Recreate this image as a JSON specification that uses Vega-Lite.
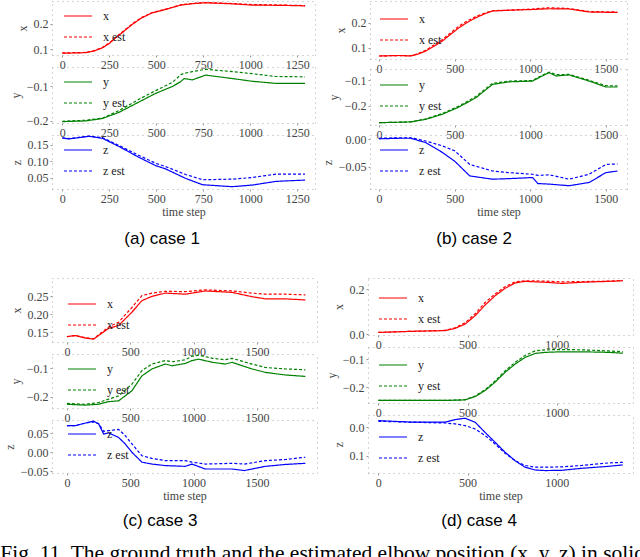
{
  "$schema": "https://vega.github.io/schema/vega-lite/v6.json",
  "padding": {"left": 0, "top": 0, "right": 0, "bottom": 0},
  "background": "white",
  "datasets": {
    "a_x": [
      {"t": 0, "x": 0.085, "x est": 0.086}, {"t": 60, "x": 0.086, "x est": 0.087}, {"t": 124, "x": 0.087, "x est": 0.088},
      {"t": 170, "x": 0.094, "x est": 0.095}, {"t": 213, "x": 0.106, "x est": 0.107}, {"t": 250, "x": 0.123, "x est": 0.125},
      {"t": 284, "x": 0.145, "x est": 0.147}, {"t": 330, "x": 0.172, "x est": 0.175}, {"t": 373, "x": 0.198, "x est": 0.2},
      {"t": 420, "x": 0.222, "x est": 0.224}, {"t": 479, "x": 0.243, "x est": 0.244}, {"t": 550, "x": 0.256, "x est": 0.257},
      {"t": 630, "x": 0.273, "x est": 0.274}, {"t": 700, "x": 0.279, "x est": 0.28}, {"t": 763, "x": 0.282, "x est": 0.283},
      {"t": 905, "x": 0.278, "x est": 0.279}, {"t": 1012, "x": 0.273, "x est": 0.275}, {"t": 1171, "x": 0.272, "x est": 0.273},
      {"t": 1292, "x": 0.27, "x est": 0.271}
    ],
    "a_y": [
      {"t": 0, "y": -0.202, "y est": -0.201}, {"t": 124, "y": -0.2, "y est": -0.198}, {"t": 213, "y": -0.193, "y est": -0.192},
      {"t": 302, "y": -0.175, "y est": -0.17}, {"t": 408, "y": -0.145, "y est": -0.137}, {"t": 497, "y": -0.12, "y est": -0.112},
      {"t": 586, "y": -0.1, "y est": -0.088}, {"t": 630, "y": -0.086, "y est": -0.066}, {"t": 648, "y": -0.077, "y est": -0.062},
      {"t": 692, "y": -0.081, "y est": -0.057}, {"t": 763, "y": -0.067, "y est": -0.05}, {"t": 905, "y": -0.077, "y est": -0.057},
      {"t": 1012, "y": -0.085, "y est": -0.063}, {"t": 1136, "y": -0.091, "y est": -0.071}, {"t": 1292, "y": -0.091, "y est": -0.072}
    ],
    "a_z": [
      {"t": 0, "z": 0.171, "z est": 0.171}, {"t": 35, "z": 0.168, "z est": 0.169}, {"t": 142, "z": 0.176, "z est": 0.177},
      {"t": 213, "z": 0.17, "z est": 0.172}, {"t": 302, "z": 0.145, "z est": 0.148}, {"t": 408, "z": 0.112, "z est": 0.118},
      {"t": 497, "z": 0.087, "z est": 0.094}, {"t": 550, "z": 0.077, "z est": 0.084}, {"t": 657, "z": 0.048, "z est": 0.06},
      {"t": 746, "z": 0.029, "z est": 0.044}, {"t": 905, "z": 0.023, "z est": 0.046}, {"t": 1012, "z": 0.028, "z est": 0.051},
      {"t": 1136, "z": 0.039, "z est": 0.061}, {"t": 1207, "z": 0.041, "z est": 0.061}, {"t": 1292, "z": 0.043, "z est": 0.061}
    ],
    "b_x": [
      {"t": 0, "x": 0.067, "x est": 0.067}, {"t": 132, "x": 0.069, "x est": 0.069}, {"t": 210, "x": 0.067, "x est": 0.068},
      {"t": 260, "x": 0.075, "x est": 0.077}, {"t": 309, "x": 0.087, "x est": 0.09}, {"t": 360, "x": 0.105, "x est": 0.11},
      {"t": 419, "x": 0.127, "x est": 0.133}, {"t": 470, "x": 0.152, "x est": 0.158}, {"t": 529, "x": 0.18, "x est": 0.187},
      {"t": 580, "x": 0.2, "x est": 0.206}, {"t": 640, "x": 0.22, "x est": 0.225}, {"t": 700, "x": 0.236, "x est": 0.239},
      {"t": 750, "x": 0.247, "x est": 0.248}, {"t": 904, "x": 0.251, "x est": 0.252}, {"t": 1015, "x": 0.253, "x est": 0.255},
      {"t": 1125, "x": 0.256, "x est": 0.26}, {"t": 1257, "x": 0.255, "x est": 0.257}, {"t": 1390, "x": 0.243, "x est": 0.245},
      {"t": 1577, "x": 0.241, "x est": 0.243}
    ],
    "b_y": [
      {"t": 0, "y": -0.265, "y est": -0.265}, {"t": 210, "y": -0.262, "y est": -0.262}, {"t": 309, "y": -0.252, "y est": -0.25},
      {"t": 419, "y": -0.232, "y est": -0.229}, {"t": 529, "y": -0.204, "y est": -0.2}, {"t": 640, "y": -0.168, "y est": -0.163},
      {"t": 750, "y": -0.116, "y est": -0.112}, {"t": 860, "y": -0.106, "y est": -0.103}, {"t": 1015, "y": -0.103, "y est": -0.101},
      {"t": 1080, "y": -0.083, "y est": -0.08}, {"t": 1125, "y": -0.07, "y est": -0.068}, {"t": 1170, "y": -0.083, "y est": -0.078},
      {"t": 1257, "y": -0.079, "y est": -0.077}, {"t": 1390, "y": -0.103, "y est": -0.1}, {"t": 1500, "y": -0.126, "y est": -0.121},
      {"t": 1577, "y": -0.126, "y est": -0.122}
    ],
    "b_z": [
      {"t": 0, "z": 0.001, "z est": 0.002}, {"t": 132, "z": 0.002, "z est": 0.003}, {"t": 210, "z": 0.002, "z est": 0.003},
      {"t": 309, "z": -0.006, "z est": -0.003}, {"t": 419, "z": -0.024, "z est": -0.012}, {"t": 500, "z": -0.04, "z est": -0.021},
      {"t": 600, "z": -0.067, "z est": -0.046}, {"t": 750, "z": -0.073, "z est": -0.058}, {"t": 860, "z": -0.072, "z est": -0.061},
      {"t": 1015, "z": -0.07, "z est": -0.064}, {"t": 1050, "z": -0.081, "z est": -0.066}, {"t": 1125, "z": -0.082, "z est": -0.065},
      {"t": 1257, "z": -0.085, "z est": -0.073}, {"t": 1390, "z": -0.079, "z est": -0.064}, {"t": 1500, "z": -0.061, "z est": -0.046},
      {"t": 1577, "z": -0.058, "z est": -0.045}
    ],
    "c_x": [
      {"t": 0, "x": 0.138, "x est": 0.138}, {"t": 66, "x": 0.141, "x est": 0.141}, {"t": 145, "x": 0.134, "x est": 0.135},
      {"t": 210, "x": 0.131, "x est": 0.132}, {"t": 250, "x": 0.141, "x est": 0.143}, {"t": 329, "x": 0.161, "x est": 0.165},
      {"t": 408, "x": 0.169, "x est": 0.178}, {"t": 513, "x": 0.206, "x est": 0.219}, {"t": 592, "x": 0.238, "x est": 0.252},
      {"t": 671, "x": 0.25, "x est": 0.259}, {"t": 776, "x": 0.259, "x est": 0.264}, {"t": 934, "x": 0.256, "x est": 0.263},
      {"t": 1092, "x": 0.265, "x est": 0.268}, {"t": 1303, "x": 0.261, "x est": 0.265}, {"t": 1461, "x": 0.249, "x est": 0.259},
      {"t": 1566, "x": 0.243, "x est": 0.256}, {"t": 1724, "x": 0.243, "x est": 0.256}, {"t": 1882, "x": 0.24, "x est": 0.254}
    ],
    "c_y": [
      {"t": 0, "y": -0.226, "y est": -0.223}, {"t": 145, "y": -0.229, "y est": -0.226}, {"t": 250, "y": -0.226, "y est": -0.22},
      {"t": 329, "y": -0.217, "y est": -0.208}, {"t": 408, "y": -0.214, "y est": -0.197}, {"t": 513, "y": -0.179, "y est": -0.156},
      {"t": 592, "y": -0.127, "y est": -0.109}, {"t": 671, "y": -0.103, "y est": -0.086}, {"t": 776, "y": -0.086, "y est": -0.074},
      {"t": 830, "y": -0.092, "y est": -0.078}, {"t": 934, "y": -0.084, "y est": -0.071}, {"t": 987, "y": -0.074, "y est": -0.059},
      {"t": 1040, "y": -0.069, "y est": -0.055}, {"t": 1150, "y": -0.08, "y est": -0.066}, {"t": 1250, "y": -0.086, "y est": -0.071},
      {"t": 1303, "y": -0.08, "y est": -0.066}, {"t": 1461, "y": -0.103, "y est": -0.086}, {"t": 1566, "y": -0.115, "y est": -0.098},
      {"t": 1724, "y": -0.124, "y est": -0.103}, {"t": 1882, "y": -0.129, "y est": -0.106}
    ],
    "c_z": [
      {"t": 0, "z": 0.07, "z est": 0.07}, {"t": 66, "z": 0.07, "z est": 0.07}, {"t": 145, "z": 0.077, "z est": 0.077},
      {"t": 210, "z": 0.082, "z est": 0.08}, {"t": 250, "z": 0.075, "z est": 0.075}, {"t": 290, "z": 0.048, "z est": 0.055},
      {"t": 329, "z": 0.051, "z est": 0.057}, {"t": 408, "z": 0.039, "z est": 0.06}, {"t": 460, "z": 0.022, "z est": 0.044},
      {"t": 513, "z": 0.0, "z est": 0.022}, {"t": 592, "z": -0.026, "z est": -0.009}, {"t": 671, "z": -0.031, "z est": -0.016},
      {"t": 776, "z": -0.035, "z est": -0.022}, {"t": 934, "z": -0.037, "z est": -0.022}, {"t": 987, "z": -0.031, "z est": -0.026},
      {"t": 1092, "z": -0.044, "z est": -0.031}, {"t": 1303, "z": -0.044, "z est": -0.029}, {"t": 1400, "z": -0.048, "z est": -0.031},
      {"t": 1566, "z": -0.037, "z est": -0.022}, {"t": 1724, "z": -0.032, "z est": -0.019}, {"t": 1882, "z": -0.029, "z est": -0.013}
    ],
    "d_x": [
      {"t": 0, "x": 0.007, "x est": 0.007}, {"t": 187, "x": 0.012, "x est": 0.012}, {"t": 374, "x": 0.015, "x est": 0.016},
      {"t": 430, "x": 0.025, "x est": 0.028}, {"t": 486, "x": 0.044, "x est": 0.05}, {"t": 542, "x": 0.081, "x est": 0.09},
      {"t": 598, "x": 0.129, "x est": 0.14}, {"t": 654, "x": 0.17, "x est": 0.178}, {"t": 710, "x": 0.203, "x est": 0.21},
      {"t": 766, "x": 0.227, "x est": 0.232}, {"t": 822, "x": 0.234, "x est": 0.237}, {"t": 935, "x": 0.23, "x est": 0.235},
      {"t": 1028, "x": 0.225, "x est": 0.232}, {"t": 1140, "x": 0.23, "x est": 0.233}, {"t": 1290, "x": 0.234, "x est": 0.235},
      {"t": 1370, "x": 0.237, "x est": 0.238}
    ],
    "d_y": [
      {"t": 0, "y": -0.247, "y est": -0.247}, {"t": 374, "y": -0.247, "y est": -0.247}, {"t": 486, "y": -0.245, "y est": -0.244},
      {"t": 542, "y": -0.233, "y est": -0.231}, {"t": 598, "y": -0.212, "y est": -0.209}, {"t": 654, "y": -0.182, "y est": -0.178},
      {"t": 710, "y": -0.147, "y est": -0.142}, {"t": 766, "y": -0.118, "y est": -0.112}, {"t": 822, "y": -0.094, "y est": -0.087},
      {"t": 878, "y": -0.08, "y est": -0.071}, {"t": 935, "y": -0.076, "y est": -0.067}, {"t": 1028, "y": -0.074, "y est": -0.066},
      {"t": 1140, "y": -0.074, "y est": -0.067}, {"t": 1290, "y": -0.076, "y est": -0.071}, {"t": 1370, "y": -0.079, "y est": -0.074}
    ],
    "d_z": [
      {"t": 0, "z": 0.0235, "z est": 0.021}, {"t": 187, "z": 0.018, "z est": 0.018}, {"t": 374, "z": 0.018, "z est": 0.015},
      {"t": 430, "z": 0.027, "z est": 0.012}, {"t": 486, "z": 0.032, "z est": 0.006}, {"t": 542, "z": 0.018, "z est": -0.006},
      {"t": 598, "z": -0.018, "z est": -0.029}, {"t": 654, "z": -0.053, "z est": -0.059}, {"t": 710, "z": -0.088, "z est": -0.092},
      {"t": 766, "z": -0.118, "z est": -0.118}, {"t": 822, "z": -0.141, "z est": -0.135}, {"t": 878, "z": -0.151, "z est": -0.141},
      {"t": 935, "z": -0.153, "z est": -0.141}, {"t": 1028, "z": -0.152, "z est": -0.14}, {"t": 1140, "z": -0.145, "z est": -0.135},
      {"t": 1290, "z": -0.138, "z est": -0.126}, {"t": 1370, "z": -0.133, "z est": -0.124}
    ]
  },
  "title": {
    "text": "Fig. 11.  The ground truth and the estimated elbow position (x, y, z) in solid",
    "orient": "bottom", "anchor": "start", "font": "Liberation Serif", "fontSize": 21.5,
    "fontWeight": "normal", "color": "#000", "offset": 14, "dx": -3
  },
  "spacing": 31,
  "resolve": {"scale": {"strokeDash": "independent"}, "legend": {"strokeDash": "independent"}},
  "vconcat": [
    {
      "spacing": 6,
      "resolve": {"scale": {"strokeDash": "independent"}, "legend": {"strokeDash": "independent"}},
      "hconcat": [
        {
          "title": {"text": "(a) case 1", "orient": "bottom", "anchor": "middle", "font": "Liberation Sans", "fontSize": 17, "fontWeight": "normal", "color": "#000", "offset": 14},
          "spacing": 12,
          "bounds": "flush",
          "resolve": {"scale": {"strokeDash": "independent"}, "legend": {"strokeDash": "independent"}},
          "vconcat": [
            {
              "width": 263, "height": 54,
              "data": {"name": "a_x"},
              "transform": [{"fold": ["x", "x est"], "as": ["series", "value"]}],
              "layer": [
                {
                  "mark": {"type": "line", "color": "#ff0000"},
                  "encoding": {
                    "x": {"field": "t", "type": "quantitative", "scale": {"domain": [-55, 1345], "nice": false, "zero": false}, "axis": {"values": [0, 250, 500, 750, 1000, 1250], "format": "d", "title": null}},
                    "y": {"field": "value", "type": "quantitative", "scale": {"domain": [0.078, 0.289], "nice": false, "zero": false}, "axis": {"values": [0.1, 0.2], "format": ".1f", "title": "x"}},
                    "strokeDash": {"field": "series", "type": "nominal", "scale": {"domain": ["x", "x est"], "range": [[1, 0], [3, 2]]}, "legend": {"title": null, "orient": "none", "legendX": 11, "legendY": 0, "symbolStrokeColor": "#ff0000"}}
                  }
                },
                {
                  "mark": {"type": "line", "opacity": 0},
                  "encoding": {
                    "x": {"field": "t", "type": "quantitative", "axis": {"orient": "top", "labels": false, "ticks": false, "title": null}},
                    "y": {"field": "value", "type": "quantitative", "axis": {"orient": "right", "labels": false, "ticks": false, "title": null}}
                  }
                }
              ],
              "resolve": {"axis": {"x": "independent", "y": "independent"}}
            },
            {
              "width": 263, "height": 56,
              "data": {"name": "a_y"},
              "transform": [{"fold": ["y", "y est"], "as": ["series", "value"]}],
              "layer": [
                {
                  "mark": {"type": "line", "color": "#008000"},
                  "encoding": {
                    "x": {"field": "t", "type": "quantitative", "scale": {"domain": [-55, 1345], "nice": false, "zero": false}, "axis": {"values": [0, 250, 500, 750, 1000, 1250], "format": "d", "title": null}},
                    "y": {"field": "value", "type": "quantitative", "scale": {"domain": [-0.206, -0.0435], "nice": false, "zero": false}, "axis": {"values": [-0.2, -0.1], "format": ".1f", "title": "y"}},
                    "strokeDash": {"field": "series", "type": "nominal", "scale": {"domain": ["y", "y est"], "range": [[1, 0], [3, 2]]}, "legend": {"title": null, "orient": "none", "legendX": 11, "legendY": 0, "symbolStrokeColor": "#008000"}}
                  }
                },
                {
                  "mark": {"type": "line", "opacity": 0},
                  "encoding": {
                    "x": {"field": "t", "type": "quantitative", "axis": {"orient": "top", "labels": false, "ticks": false, "title": null}},
                    "y": {"field": "value", "type": "quantitative", "axis": {"orient": "right", "labels": false, "ticks": false, "title": null}}
                  }
                }
              ],
              "resolve": {"axis": {"x": "independent", "y": "independent"}}
            },
            {
              "width": 263, "height": 54,
              "data": {"name": "a_z"},
              "transform": [{"fold": ["z", "z est"], "as": ["series", "value"]}],
              "layer": [
                {
                  "mark": {"type": "line", "color": "#0000ff"},
                  "encoding": {
                    "x": {"field": "t", "type": "quantitative", "scale": {"domain": [-55, 1345], "nice": false, "zero": false}, "axis": {"values": [0, 250, 500, 750, 1000, 1250], "format": "d", "title": "time step"}},
                    "y": {"field": "value", "type": "quantitative", "scale": {"domain": [0.016, 0.18], "nice": false, "zero": false}, "axis": {"values": [0.05, 0.1, 0.15], "format": ".2f", "title": "z"}},
                    "strokeDash": {"field": "series", "type": "nominal", "scale": {"domain": ["z", "z est"], "range": [[1, 0], [3, 2]]}, "legend": {"title": null, "orient": "none", "legendX": 11, "legendY": 0, "symbolStrokeColor": "#0000ff"}}
                  }
                },
                {
                  "mark": {"type": "line", "opacity": 0},
                  "encoding": {
                    "x": {"field": "t", "type": "quantitative", "axis": {"orient": "top", "labels": false, "ticks": false, "title": null}},
                    "y": {"field": "value", "type": "quantitative", "axis": {"orient": "right", "labels": false, "ticks": false, "title": null}}
                  }
                }
              ],
              "resolve": {"axis": {"x": "independent", "y": "independent"}}
            }
          ]
        },
        {
          "title": {"text": "(b) case 2", "orient": "bottom", "anchor": "middle", "font": "Liberation Sans", "fontSize": 17, "fontWeight": "normal", "color": "#000", "offset": 14},
          "spacing": 10,
          "bounds": "flush",
          "resolve": {"scale": {"strokeDash": "independent"}, "legend": {"strokeDash": "independent"}},
          "vconcat": [
            {
              "width": 257, "height": 58,
              "data": {"name": "b_x"},
              "transform": [{"fold": ["x", "x est"], "as": ["series", "value"]}],
              "layer": [
                {
                  "mark": {"type": "line", "color": "#ff0000"},
                  "encoding": {
                    "x": {"field": "t", "type": "quantitative", "scale": {"domain": [-60, 1640], "nice": false, "zero": false}, "axis": {"values": [0, 500, 1000, 1500], "format": "d", "title": null}},
                    "y": {"field": "value", "type": "quantitative", "scale": {"domain": [0.055, 0.287], "nice": false, "zero": false}, "axis": {"values": [0.1, 0.2], "format": ".1f", "title": "x"}},
                    "strokeDash": {"field": "series", "type": "nominal", "scale": {"domain": ["x", "x est"], "range": [[1, 0], [3, 2]]}, "legend": {"title": null, "orient": "none", "legendX": 9, "legendY": 3, "symbolStrokeColor": "#ff0000"}}
                  }
                },
                {
                  "mark": {"type": "line", "opacity": 0},
                  "encoding": {
                    "x": {"field": "t", "type": "quantitative", "axis": {"orient": "top", "labels": false, "ticks": false, "title": null}},
                    "y": {"field": "value", "type": "quantitative", "axis": {"orient": "right", "labels": false, "ticks": false, "title": null}}
                  }
                }
              ],
              "resolve": {"axis": {"x": "independent", "y": "independent"}}
            },
            {
              "width": 257, "height": 56,
              "data": {"name": "b_y"},
              "transform": [{"fold": ["y", "y est"], "as": ["series", "value"]}],
              "layer": [
                {
                  "mark": {"type": "line", "color": "#008000"},
                  "encoding": {
                    "x": {"field": "t", "type": "quantitative", "scale": {"domain": [-60, 1640], "nice": false, "zero": false}, "axis": {"values": [0, 500, 1000, 1500], "format": "d", "title": null}},
                    "y": {"field": "value", "type": "quantitative", "scale": {"domain": [-0.274, -0.056], "nice": false, "zero": false}, "axis": {"values": [-0.2, -0.1], "format": ".1f", "title": "y"}},
                    "strokeDash": {"field": "series", "type": "nominal", "scale": {"domain": ["y", "y est"], "range": [[1, 0], [3, 2]]}, "legend": {"title": null, "orient": "none", "legendX": 9, "legendY": 1, "symbolStrokeColor": "#008000"}}
                  }
                },
                {
                  "mark": {"type": "line", "opacity": 0},
                  "encoding": {
                    "x": {"field": "t", "type": "quantitative", "axis": {"orient": "top", "labels": false, "ticks": false, "title": null}},
                    "y": {"field": "value", "type": "quantitative", "axis": {"orient": "right", "labels": false, "ticks": false, "title": null}}
                  }
                }
              ],
              "resolve": {"axis": {"x": "independent", "y": "independent"}}
            },
            {
              "width": 257, "height": 54,
              "data": {"name": "b_z"},
              "transform": [{"fold": ["z", "z est"], "as": ["series", "value"]}],
              "layer": [
                {
                  "mark": {"type": "line", "color": "#0000ff"},
                  "encoding": {
                    "x": {"field": "t", "type": "quantitative", "scale": {"domain": [-60, 1640], "nice": false, "zero": false}, "axis": {"values": [0, 500, 1000, 1500], "format": "d", "title": "time step"}},
                    "y": {"field": "value", "type": "quantitative", "scale": {"domain": [-0.091, 0.008], "nice": false, "zero": false}, "axis": {"values": [-0.05, 0], "format": ".2f", "title": "z"}},
                    "strokeDash": {"field": "series", "type": "nominal", "scale": {"domain": ["z", "z est"], "range": [[1, 0], [3, 2]]}, "legend": {"title": null, "orient": "none", "legendX": 9, "legendY": 0, "symbolStrokeColor": "#0000ff"}}
                  }
                },
                {
                  "mark": {"type": "line", "opacity": 0},
                  "encoding": {
                    "x": {"field": "t", "type": "quantitative", "axis": {"orient": "top", "labels": false, "ticks": false, "title": null}},
                    "y": {"field": "value", "type": "quantitative", "axis": {"orient": "right", "labels": false, "ticks": false, "title": null}}
                  }
                }
              ],
              "resolve": {"axis": {"x": "independent", "y": "independent"}}
            }
          ]
        }
      ]
    },
    {
      "spacing": 8,
      "resolve": {"scale": {"strokeDash": "independent"}, "legend": {"strokeDash": "independent"}},
      "hconcat": [
        {
          "title": {"text": "(c) case 3", "orient": "bottom", "anchor": "middle", "font": "Liberation Sans", "fontSize": 17, "fontWeight": "normal", "color": "#000", "offset": 12},
          "spacing": 12,
          "bounds": "flush",
          "resolve": {"scale": {"strokeDash": "independent"}, "legend": {"strokeDash": "independent"}},
          "vconcat": [
            {
              "width": 265, "height": 64,
              "data": {"name": "c_x"},
              "transform": [{"fold": ["x", "x est"], "as": ["series", "value"]}],
              "layer": [
                {
                  "mark": {"type": "line", "color": "#ff0000"},
                  "encoding": {
                    "x": {"field": "t", "type": "quantitative", "scale": {"domain": [-118, 1974], "nice": false, "zero": false}, "axis": {"values": [0, 500, 1000, 1500], "format": "d", "title": null}},
                    "y": {"field": "value", "type": "quantitative", "scale": {"domain": [0.123, 0.301], "nice": false, "zero": false}, "axis": {"values": [0.15, 0.2, 0.25], "format": ".2f", "title": "x"}},
                    "strokeDash": {"field": "series", "type": "nominal", "scale": {"domain": ["x", "x est"], "range": [[1, 0], [3, 2]]}, "legend": {"title": null, "orient": "none", "legendX": 15, "legendY": 11, "symbolStrokeColor": "#ff0000"}}
                  }
                },
                {
                  "mark": {"type": "line", "opacity": 0},
                  "encoding": {
                    "x": {"field": "t", "type": "quantitative", "axis": {"orient": "top", "labels": false, "ticks": false, "title": null}},
                    "y": {"field": "value", "type": "quantitative", "axis": {"orient": "right", "labels": false, "ticks": false, "title": null}}
                  }
                }
              ],
              "resolve": {"axis": {"x": "independent", "y": "independent"}}
            },
            {
              "width": 265, "height": 54,
              "data": {"name": "c_y"},
              "transform": [{"fold": ["y", "y est"], "as": ["series", "value"]}],
              "layer": [
                {
                  "mark": {"type": "line", "color": "#008000"},
                  "encoding": {
                    "x": {"field": "t", "type": "quantitative", "scale": {"domain": [-118, 1974], "nice": false, "zero": false}, "axis": {"values": [0, 500, 1000, 1500], "format": "d", "title": null}},
                    "y": {"field": "value", "type": "quantitative", "scale": {"domain": [-0.239, -0.051], "nice": false, "zero": false}, "axis": {"values": [-0.2, -0.1], "format": ".1f", "title": "y"}},
                    "strokeDash": {"field": "series", "type": "nominal", "scale": {"domain": ["y", "y est"], "range": [[1, 0], [3, 2]]}, "legend": {"title": null, "orient": "none", "legendX": 15, "legendY": 0, "symbolStrokeColor": "#008000"}}
                  }
                },
                {
                  "mark": {"type": "line", "opacity": 0},
                  "encoding": {
                    "x": {"field": "t", "type": "quantitative", "axis": {"orient": "top", "labels": false, "ticks": false, "title": null}},
                    "y": {"field": "value", "type": "quantitative", "axis": {"orient": "right", "labels": false, "ticks": false, "title": null}}
                  }
                }
              ],
              "resolve": {"axis": {"x": "independent", "y": "independent"}}
            },
            {
              "width": 265, "height": 53,
              "data": {"name": "c_z"},
              "transform": [{"fold": ["z", "z est"], "as": ["series", "value"]}],
              "layer": [
                {
                  "mark": {"type": "line", "color": "#0000ff"},
                  "encoding": {
                    "x": {"field": "t", "type": "quantitative", "scale": {"domain": [-118, 1974], "nice": false, "zero": false}, "axis": {"values": [0, 500, 1000, 1500], "format": "d", "title": "time step"}},
                    "y": {"field": "value", "type": "quantitative", "scale": {"domain": [-0.0545, 0.085], "nice": false, "zero": false}, "axis": {"values": [-0.05, 0, 0.05], "format": ".2f", "title": "z"}},
                    "strokeDash": {"field": "series", "type": "nominal", "scale": {"domain": ["z", "z est"], "range": [[1, 0], [3, 2]]}, "legend": {"title": null, "orient": "none", "legendX": 15, "legendY": -1, "symbolStrokeColor": "#0000ff"}}
                  }
                },
                {
                  "mark": {"type": "line", "opacity": 0},
                  "encoding": {
                    "x": {"field": "t", "type": "quantitative", "axis": {"orient": "top", "labels": false, "ticks": false, "title": null}},
                    "y": {"field": "value", "type": "quantitative", "axis": {"orient": "right", "labels": false, "ticks": false, "title": null}}
                  }
                }
              ],
              "resolve": {"axis": {"x": "independent", "y": "independent"}}
            }
          ]
        },
        {
          "title": {"text": "(d) case 4", "orient": "bottom", "anchor": "middle", "font": "Liberation Sans", "fontSize": 17, "fontWeight": "normal", "color": "#000", "offset": 12},
          "spacing": 12,
          "bounds": "flush",
          "resolve": {"scale": {"strokeDash": "independent"}, "legend": {"strokeDash": "independent"}},
          "vconcat": [
            {
              "width": 265, "height": 57,
              "data": {"name": "d_x"},
              "transform": [{"fold": ["x", "x est"], "as": ["series", "value"]}],
              "layer": [
                {
                  "mark": {"type": "line", "color": "#ff0000"},
                  "encoding": {
                    "x": {"field": "t", "type": "quantitative", "scale": {"domain": [-58, 1427], "nice": false, "zero": false}, "axis": {"values": [0, 500, 1000], "format": "d", "title": null}},
                    "y": {"field": "value", "type": "quantitative", "scale": {"domain": [-0.0044, 0.249], "nice": false, "zero": false}, "axis": {"values": [0, 0.2], "format": ".1f", "title": "x"}},
                    "strokeDash": {"field": "series", "type": "nominal", "scale": {"domain": ["x", "x est"], "range": [[1, 0], [3, 2]]}, "legend": {"title": null, "orient": "none", "legendX": 10, "legendY": 5, "symbolStrokeColor": "#ff0000"}}
                  }
                },
                {
                  "mark": {"type": "line", "opacity": 0},
                  "encoding": {
                    "x": {"field": "t", "type": "quantitative", "axis": {"orient": "top", "labels": false, "ticks": false, "title": null}},
                    "y": {"field": "value", "type": "quantitative", "axis": {"orient": "right", "labels": false, "ticks": false, "title": null}}
                  }
                }
              ],
              "resolve": {"axis": {"x": "independent", "y": "independent"}}
            },
            {
              "width": 265, "height": 56,
              "data": {"name": "d_y"},
              "transform": [{"fold": ["y", "y est"], "as": ["series", "value"]}],
              "layer": [
                {
                  "mark": {"type": "line", "color": "#008000"},
                  "encoding": {
                    "x": {"field": "t", "type": "quantitative", "scale": {"domain": [-58, 1427], "nice": false, "zero": false}, "axis": {"values": [0, 500, 1000], "format": "d", "title": null}},
                    "y": {"field": "value", "type": "quantitative", "scale": {"domain": [-0.256, -0.057], "nice": false, "zero": false}, "axis": {"values": [-0.2, -0.1], "format": ".1f", "title": "y"}},
                    "strokeDash": {"field": "series", "type": "nominal", "scale": {"domain": ["y", "y est"], "range": [[1, 0], [3, 2]]}, "legend": {"title": null, "orient": "none", "legendX": 10, "legendY": 3, "symbolStrokeColor": "#008000"}}
                  }
                },
                {
                  "mark": {"type": "line", "opacity": 0},
                  "encoding": {
                    "x": {"field": "t", "type": "quantitative", "axis": {"orient": "top", "labels": false, "ticks": false, "title": null}},
                    "y": {"field": "value", "type": "quantitative", "axis": {"orient": "right", "labels": false, "ticks": false, "title": null}}
                  }
                }
              ],
              "resolve": {"axis": {"x": "independent", "y": "independent"}}
            },
            {
              "width": 265, "height": 58,
              "data": {"name": "d_z"},
              "transform": [{"fold": ["z", "z est"], "as": ["series", "value"]}],
              "layer": [
                {
                  "mark": {"type": "line", "color": "#0000ff"},
                  "encoding": {
                    "x": {"field": "t", "type": "quantitative", "scale": {"domain": [-58, 1427], "nice": false, "zero": false}, "axis": {"values": [0, 500, 1000], "format": "d", "title": "time step"}},
                    "y": {"field": "value", "type": "quantitative", "scale": {"domain": [-0.1616, 0.0433], "nice": false, "zero": false}, "axis": {"values": [-0.1, 0], "labelExpr": "format(abs(datum.value), '.1f')", "title": "z"}},
                    "strokeDash": {"field": "series", "type": "nominal", "scale": {"domain": ["z", "z est"], "range": [[1, 0], [3, 2]]}, "legend": {"title": null, "orient": "none", "legendX": 10, "legendY": 7, "symbolStrokeColor": "#0000ff"}}
                  }
                },
                {
                  "mark": {"type": "line", "opacity": 0},
                  "encoding": {
                    "x": {"field": "t", "type": "quantitative", "axis": {"orient": "top", "labels": false, "ticks": false, "title": null}},
                    "y": {"field": "value", "type": "quantitative", "axis": {"orient": "right", "labels": false, "ticks": false, "title": null}}
                  }
                }
              ],
              "resolve": {"axis": {"x": "independent", "y": "independent"}}
            }
          ]
        }
      ]
    }
  ],
  "config": {
    "font": "Liberation Serif",
    "view": {"stroke": null},
    "line": {"strokeWidth": 1.2},
    "axis": {
      "labelFont": "Liberation Serif", "labelFontSize": 12, "labelColor": "#444",
      "titleFont": "Liberation Serif", "titleFontSize": 12, "titleFontWeight": "normal", "titleColor": "#444",
      "tickSize": 2, "tickColor": "#999", "labelPadding": 2, "titlePadding": 4, "grid": false,
      "domainColor": "#aaa", "domainDash": [1, 4], "minExtent": 0
    },
    "axisX": {"titlePadding": 2},
    "legend": {
      "symbolType": "stroke", "symbolSize": 784, "symbolStrokeWidth": 1.2,
      "labelFont": "Liberation Serif", "labelFontSize": 12, "labelColor": "#222",
      "labelOffset": 10, "rowPadding": -10, "padding": 0
    }
  }
}
